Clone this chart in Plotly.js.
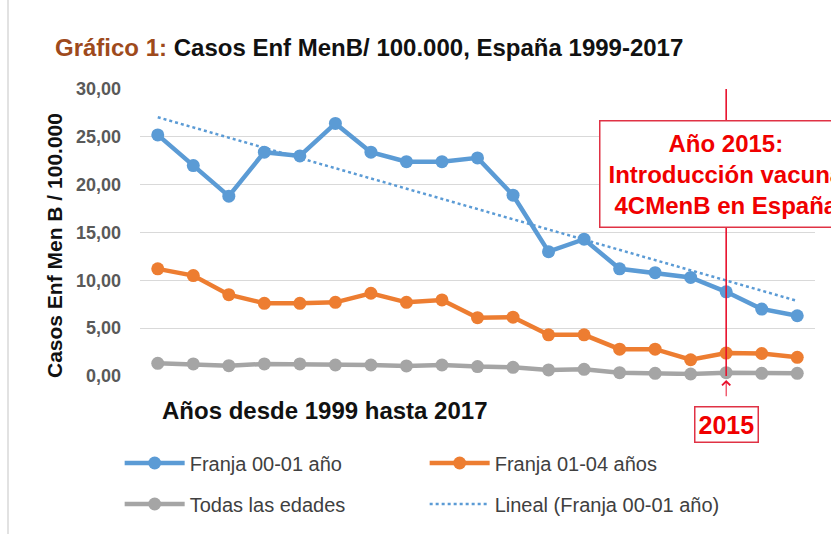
<!DOCTYPE html>
<html><head><meta charset="utf-8">
<script src="https://cdn.plot.ly/plotly-3.0.1.min.js"></script>
<style>html,body{margin:0;padding:0;background:#fff}#chart{width:831px;height:534px}</style>
</head><body><div id="chart"></div>
<script>
const years = [1999,2000,2001,2002,2003,2004,2005,2006,2007,2008,2009,2010,2011,2012,2013,2014,2015,2016,2017];
const franja0001 = [25.2,22.0,18.8,23.4,23.0,26.4,23.4,22.4,22.4,22.8,18.9,13.0,14.3,11.2,10.8,10.3,8.8,7.0,6.3];
const franja0104 = [11.2,10.5,8.5,7.6,7.6,7.7,8.65,7.7,7.95,6.1,6.15,4.3,4.3,2.8,2.8,1.7,2.4,2.35,1.95];
const todasEdades = [1.33,1.26,1.08,1.26,1.26,1.15,1.15,1.05,1.15,0.98,0.91,0.63,0.70,0.35,0.28,0.21,0.35,0.28,0.28];
const trendYears = [1999,2017];
const trendValues = [27.05,7.85];
const vaccineYear = 2015;
const seriesNames = ['Franja 00-01 año','Franja 01-04 años','Todas las edades','Lineal (Franja 00-01 año)'];
const yTicks = [0,5,10,15,20,25,30];

const FONT = 'Liberation Sans, Arial, sans-serif';
const RED = '#E8112D';
const mk = (y, name, color, leg) => ({
  x: years, y: y, name: name, type: 'scatter', mode: 'lines+markers',
  line: {color: color, width: 4.5}, marker: {color: color, size: 13},
  legend: leg, cliponaxis: false
});
const data = [
  mk(franja0001, seriesNames[0], '#5B9BD5', 'legend'),
  mk(franja0104, seriesNames[1], '#ED7D31', 'legend'),
  mk(todasEdades, seriesNames[2], '#A5A5A5', 'legend2'),
  {x: trendYears, y: trendValues, name: seriesNames[3], type: 'scatter', mode: 'lines',
   line: {color: '#5B9BD5', width: 2.5, dash: 'dot'}, legend: 'legend2'}
];
const legendCommon = {
  orientation: 'h', xref: 'container', yref: 'container', x: 0.144, xanchor: 'left', yanchor: 'middle',
  font: {family: FONT, size: 20, color: '#404040'}, itemwidth: 60, entrywidth: 230,
  bgcolor: 'rgba(0,0,0,0)', borderwidth: 0, traceorder: 'normal'
};
const layout = {
  width: 831, height: 534,
  margin: {l: 140, r: 16, t: 89, b: 158},
  paper_bgcolor: '#fff', plot_bgcolor: '#fff',
  separators: ',.',
  title: {
    text: '<span style="color:#9E4A1C">Gráfico 1:</span> Casos Enf MenB/ 100.000, España 1999-2017',
    xref: 'container', yref: 'container', x: 55/831, xanchor: 'left', y: 1 - 48/534, yanchor: 'middle',
    font: {family: FONT, size: 24, color: '#111', weight: 'bold'}
  },
  xaxis: {
    type: 'linear', range: [1998.5, 2017.5], showgrid: false, zeroline: false,
    showticklabels: false, ticks: '', showline: false, fixedrange: true
  },
  yaxis: {
    range: [0, 30], tickvals: yTicks, tickformat: '.2f', showgrid: true, gridcolor: '#D9D9D9', gridwidth: 1.3,
    zeroline: false, showline: false, ticks: '', ticklabelstandoff: 18,
    tickfont: {family: FONT, size: 18, color: '#595959', weight: 'bold'}, fixedrange: true
  },
  showlegend: true,
  legend: Object.assign({}, legendCommon, {y: 1 - 463/534}),
  legend2: Object.assign({}, legendCommon, {y: 1 - 504/534}),
  shapes: [
    {type: 'line', xref: 'x', yref: 'paper', x0: vaccineYear, x1: vaccineYear, y0: 0, y1: 1,
     line: {color: RED, width: 1.6}, layer: 'above'},
    {type: 'line', xref: 'paper', yref: 'paper', x0: (8-140)/675, x1: (8-140)/675, y0: -0.6, y1: 1.4,
     line: {color: '#D9D9D9', width: 1.5}}
  ],
  annotations: [
    {text: 'Años desde 1999 hasta 2017', xref: 'paper', yref: 'paper', x: (160-140)/675, xanchor: 'left',
     y: (376-410)/287, yanchor: 'middle', showarrow: false,
     font: {family: FONT, size: 24, color: '#111', weight: 'bold'}},
    {text: 'Casos Enf Men B / 100.000', xref: 'paper', yref: 'paper', x: (54.5-140)/675, xanchor: 'center',
     y: (376-245.5)/287, yanchor: 'middle', textangle: -90, showarrow: false,
     font: {family: FONT, size: 21, color: '#111', weight: 'bold'}},
    {text: 'Año 2015:<br>Introducción vacuna<br>4CMenB en España', xref: 'x', yref: 'paper', x: vaccineYear,
     xanchor: 'center', y: (376-173.5)/287, yanchor: 'middle', showarrow: false, align: 'center',
     bgcolor: '#fff', bordercolor: '#E03245', borderwidth: 1.5, borderpad: 8,
     font: {family: FONT, size: 24, color: '#F00000', weight: 'bold'}},
    {text: String(vaccineYear), xref: 'x', yref: 'y', x: vaccineYear, y: 0, ax: 0, ay: 48,
     showarrow: true, arrowhead: 4, arrowsize: 1.6, arrowwidth: 1, arrowcolor: RED, standoff: 4, startstandoff: 10,
     bgcolor: '#fff', bordercolor: '#E03245', borderwidth: 1.5, borderpad: 3,
     font: {family: FONT, size: 25, color: '#F00000', weight: 'bold'}}
  ]
};
Plotly.newPlot('chart', data, layout, {displayModeBar: false, staticPlot: true});
</script></body></html>
